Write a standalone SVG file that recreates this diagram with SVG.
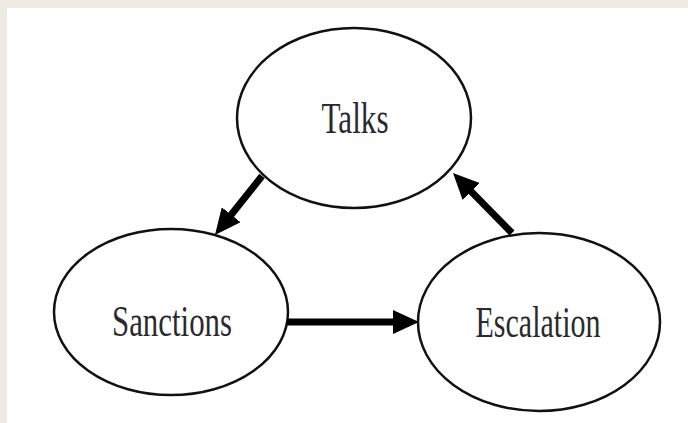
<svg xmlns="http://www.w3.org/2000/svg" width="688" height="423" viewBox="0 0 688 423">
<style>
.node ellipse{fill:#fff;stroke:#111;stroke-width:2.5}
.node text{font-family:"Liberation Serif","Times New Roman",serif;font-size:44px;fill:#2a2a2e;text-anchor:middle}
.conn line{stroke:#000;stroke-width:7;marker-end:url(#ah)}
</style>
<defs>
<marker id="ah" viewBox="0 0 26 24" refX="16" refY="12" markerWidth="26" markerHeight="24" markerUnits="userSpaceOnUse" orient="auto">
<path d="M0,0 L26,12 L0,24 z" fill="#000"/>
</marker>
</defs>
<rect x="0" y="0" width="688" height="423" fill="#fff"/>
<rect x="0" y="0" width="688" height="8" fill="#eeebe3"/>
<rect x="0" y="0" width="7" height="423" fill="#eeebe3"/>
<g id="talks" class="node">
<ellipse cx="354" cy="118" rx="117" ry="90"/>
<text x="355" y="133" textLength="67" lengthAdjust="spacingAndGlyphs">Talks</text>
</g>
<g id="sanctions" class="node">
<ellipse cx="171" cy="312" rx="117" ry="83"/>
<text x="172" y="336" textLength="120" lengthAdjust="spacingAndGlyphs">Sanctions</text>
</g>
<g id="escalation" class="node">
<ellipse cx="539" cy="322" rx="121" ry="89"/>
<text x="538" y="337" textLength="125" lengthAdjust="spacingAndGlyphs">Escalation</text>
</g>
<g id="connectors" class="conn">
<line x1="262" y1="176" x2="221.2" y2="227.2"/>
<line x1="512" y1="233" x2="460" y2="180.1"/>
<line x1="287" y1="322" x2="409" y2="322"/>
</g>
</svg>
